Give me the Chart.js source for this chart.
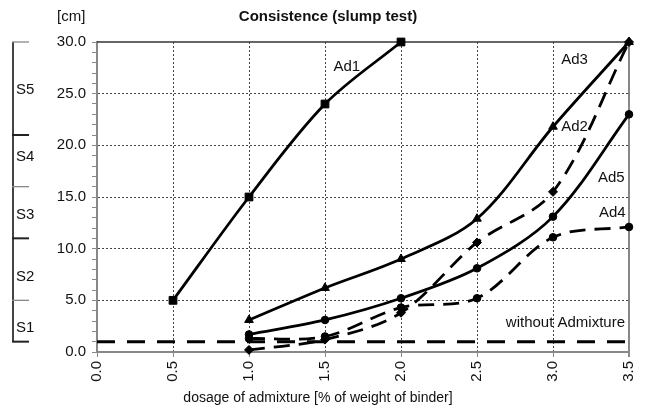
<!DOCTYPE html>
<html>
<head>
<meta charset="utf-8">
<script src="https://cdn.jsdelivr.net/npm/chart.js@4.4.0/dist/chart.umd.min.js"></script>
<style>
  html, body { margin: 0; padding: 0; background: #fff; }
  #wrap { width: 651px; height: 410px; }
</style>
</head>
<body>
<div id="wrap"><canvas id="slumpChart"></canvas></div>
<script>
// ---- data: dosage [% of binder] vs slump [cm] ----
const dosageAd1 = [0.5, 1.0, 1.5, 2.0];
const slumpAd1  = [5, 15, 24, 30];
const dosage    = [1.0, 1.5, 2.0, 2.5, 3.0, 3.5];
const slumpAd3  = [3.1, 6.2, 9.0, 12.9, 21.8, 30];
const slumpAd2  = [0.2, 1.2, 3.8, 10.6, 15.5, 30];
const slumpAd5  = [1.7, 3.1, 5.2, 8.1, 13.1, 23];
const slumpAd4  = [1.3, 1.5, 4.3, 5.2, 11.1, 12.1];
const dosageRef = [0.0, 3.5];
const slumpRef  = [1, 1];

const xTickValues = [0.0, 0.5, 1.0, 1.5, 2.0, 2.5, 3.0, 3.5];
const yTickValues = [0, 1, 2, 3, 4, 5, 6, 7, 8, 9, 10, 11, 12, 13, 14, 15,
                     16, 17, 18, 19, 20, 21, 22, 23, 24, 25, 26, 27, 28, 29, 30];

// slump classes (left bracket)
const classNames  = ['S1', 'S2', 'S3', 'S4', 'S5'];
const classBounds = [1, 5, 11, 16, 21, 30];
const classLabelAt = [2.3, 7.3, 13.3, 18.9, 25.4];

const FONT = 'Liberation Sans, Arial, sans-serif';

function pts(xs, ys) { return xs.map((v, i) => ({ x: v, y: ys[i] })); }

function series(label, xs, ys, style, radius, dashed) {
    return {
        label: label,
        data: pts(xs, ys),
        borderColor: '#000',
        backgroundColor: '#000',
        pointBackgroundColor: '#000',
        pointBorderColor: '#000',
        pointBorderWidth: 1,
        pointStyle: style,
        pointRadius: radius,
        borderWidth: 2.8,
        borderDash: dashed ? [16, 9] : [],
        tension: 0.33,
        clip: false
    };
}

// series labels placed in data units
const seriesLabels = [
    { t: 'Ad1', x: 1.556, y: 27.6, align: 'left' },
    { t: 'Ad3', x: 3.054, y: 28.3, align: 'left' },
    { t: 'Ad2', x: 3.054, y: 21.8, align: 'left' },
    { t: 'Ad5', x: 3.296, y: 16.9, align: 'left' },
    { t: 'Ad4', x: 3.302, y: 13.5, align: 'left' },
    { t: 'without Admixture', x: 3.474, y: 2.8, align: 'right' }
];

const frame = {
    id: 'frame',
    beforeDatasetsDraw(chart) {
        const { ctx, chartArea: a } = chart;
        ctx.save();
        ctx.strokeStyle = '#333'; ctx.lineWidth = 1.5;
        ctx.beginPath(); ctx.moveTo(a.left, a.top); ctx.lineTo(a.right, a.top); ctx.stroke();
        ctx.strokeStyle = '#888'; ctx.lineWidth = 2;
        ctx.beginPath(); ctx.moveTo(a.right, a.top); ctx.lineTo(a.right, a.bottom + 5); ctx.stroke();
        ctx.restore();
    },
    afterDraw(chart) {
        const { ctx, scales: { x, y } } = chart;
        ctx.save();
        ctx.fillStyle = '#111';
        ctx.textBaseline = 'middle';

        // title, unit, axis title
        ctx.font = 'bold 15px ' + FONT;
        ctx.textAlign = 'center';
        ctx.fillText('Consistence (slump test)', 328, 17);
        ctx.font = '14px ' + FONT;
        ctx.fillText('dosage of admixture [% of weight of binder]', 318, 398);
        ctx.font = '15px ' + FONT;
        ctx.textAlign = 'left';
        ctx.fillText('[cm]', 57, 17);

        // slump class bracket
        const bx = 13;
        ctx.strokeStyle = '#444'; ctx.lineWidth = 2;
        ctx.beginPath();
        ctx.moveTo(bx, y.getPixelForValue(classBounds[0]));
        ctx.lineTo(bx, y.getPixelForValue(classBounds[classBounds.length - 1]));
        ctx.stroke();
        classBounds.forEach((v, i) => {
            const py = y.getPixelForValue(v);
            ctx.strokeStyle = (i % 2 === 0) ? '#222' : '#888';
            ctx.lineWidth = (i % 2 === 0) ? 2 : 1.3;
            ctx.beginPath(); ctx.moveTo(bx - 1, py); ctx.lineTo(29, py); ctx.stroke();
        });
        ctx.textAlign = 'left';
        classNames.forEach((n, i) => ctx.fillText(n, 16, y.getPixelForValue(classLabelAt[i])));

        // series labels
        seriesLabels.forEach(l => {
            ctx.textAlign = l.align;
            ctx.fillText(l.t, x.getPixelForValue(l.x), y.getPixelForValue(l.y));
        });
        ctx.restore();
    }
};

new Chart(document.getElementById('slumpChart').getContext('2d'), {
    type: 'line',
    data: {
        datasets: [
            series('Ad1', dosageAd1, slumpAd1, 'rect', 5.5, false),
            series('Ad3', dosage, slumpAd3, 'triangle', 5, false),
            series('Ad2', dosage, slumpAd2, 'rectRot', 4.5, true),
            series('Ad5', dosage, slumpAd5, 'circle', 3.8, false),
            series('Ad4', dosage, slumpAd4, 'circle', 3.8, true),
            Object.assign(series('without Admixture', dosageRef, slumpRef, false, 0, true),
                { borderWidth: 3, borderDash: [18, 12], tension: 0 })
        ]
    },
    options: {
        responsive: true,
        maintainAspectRatio: false,
        animation: false,
        layout: { padding: { left: 0, top: 42, right: 5, bottom: 0 } },
        plugins: { legend: { display: false }, tooltip: { enabled: false } },
        scales: {
            x: {
                type: 'linear', min: 0, max: 3.5,
                afterBuildTicks: s => { s.ticks = xTickValues.map(v => ({ value: v })); },
                afterFit: s => { s.height = 58; },
                ticks: {
                    color: '#111', font: { family: FONT, size: 15 },
                    minRotation: 90, maxRotation: 90, padding: 4,
                    callback: v => Number(v).toFixed(1)
                },
                grid: { color: '#444', tickColor: '#888', tickLength: 5, lineWidth: 1 },
                border: { color: '#888', width: 2, dash: [2, 2] }
            },
            y: {
                type: 'linear', min: 0, max: 30,
                afterBuildTicks: s => { s.ticks = yTickValues.map(v => ({ value: v })); },
                afterFit: s => { s.width = 97; },
                ticks: {
                    color: '#111', font: { family: FONT, size: 15 }, padding: 6, autoSkip: false,
                    callback: v => (v % 5 === 0 ? Number(v).toFixed(1) : '')
                },
                grid: {
                    color: c => (c.tick && c.tick.value % 5 === 0 && c.tick.value > 0 && c.tick.value < 30) ? '#444' : 'rgba(0,0,0,0)',
                    tickColor: '#888', tickLength: 5, lineWidth: 1
                },
                border: { color: '#888', width: 2, dash: [2, 2] }
            }
        }
    },
    plugins: [frame]
});
</script>
</body>
</html>
